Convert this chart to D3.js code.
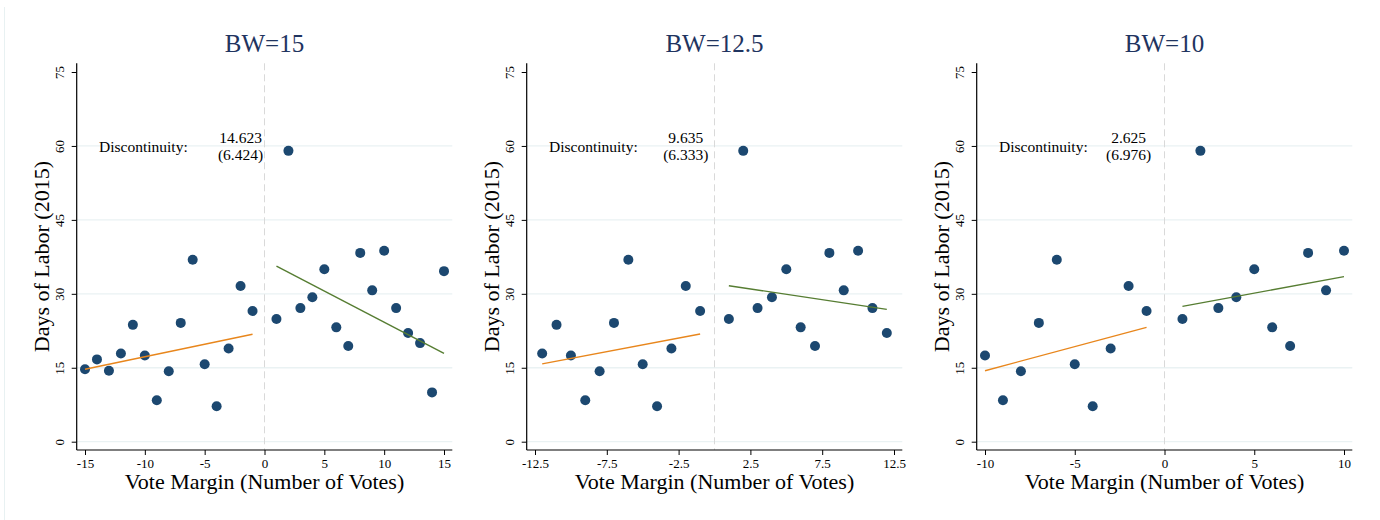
<!DOCTYPE html>
<html>
<head>
<meta charset="utf-8">
<script src="https://cdn.jsdelivr.net/npm/d3@7"></script>
<style>
  body { margin: 0; background: #fff; }
  svg { display: block; font-family: "Liberation Serif", "DejaVu Serif", serif; }
</style>
</head>
<body>
<svg id="chart"></svg>
<script>
// vote margin bins and mean days of labor
let margins = [-15,-14,-13,-12,-11,-10,-9,-8,-7,-6,-5,-4,-3,-2,-1,1,2,3,4,5,6,7,8,9,10,11,12,13,14,15]
let days = [14.7,16.7,14.4,17.9,23.7,17.5,8.4,14.3,24.1,36.9,15.7,7.2,18.9,31.6,26.5,
            24.9,59.0,27.1,29.3,35.0,23.2,19.4,38.3,30.7,38.75,27.1,22.05,20.0,10.0,34.6]

let bandwidths = [15, 12.5, 10]
let titles = ['BW=15', 'BW=12.5', 'BW=10']
let xTicks = [[-15,-10,-5,0,5,10,15], [-12.5,-7.5,-2.5,2.5,7.5,12.5], [-10,-5,0,5,10]]
let yTicks = [0,15,30,45,60,75]
let estimates = ['14.623', '9.635', '2.625']
let stdErrors = ['(6.424)', '(6.333)', '(6.976)']
// fitted line ends: [x0, y0, x1, y1]
let leftFits = [[-15,14.7,-1,21.8], [-12,15.8,-1,21.85], [-10,14.4,-1,23.2]]
let rightFits = [[1,35.6,15,17.9], [1,31.65,12,26.85], [1,27.45,10,33.5]]

let width = 1380
let height = 520
let panelW = 450

let svg = d3.select('#chart').attr('width', width).attr('height', height)

// faint outer frame line on the left
svg.append('line')
  .attr('x1', 4.5).attr('x2', 4.5).attr('y1', 7).attr('y2', height)
  .attr('stroke', '#e8f1f2').attr('stroke-width', 1)

let axL = 76.7, axR = 452.3, axT = 63.3, axB = 450

bandwidths.forEach((bw, i) => {
  let g = svg.append('g').attr('transform', 'translate(' + (i * panelW) + ',0)')

  let xScale = d3.scaleLinear().domain([-bw, bw]).range([85, 444])
  let yScale = d3.scaleLinear().domain([0, 75]).range([441.7, 72])

  // gridlines
  g.selectAll('.grid')
    .data(yTicks.filter(t => t < 75))
    .enter()
    .append('line')
    .attr('x1', axL).attr('x2', axR)
    .attr('y1', d => yScale(d)).attr('y2', d => yScale(d))
    .attr('stroke', '#eaf2f3').attr('stroke-width', 1.3)

  // cutoff line
  g.append('line')
    .attr('x1', xScale(0)).attr('x2', xScale(0))
    .attr('y1', axT).attr('y2', axB)
    .attr('stroke', '#d9d9d9').attr('stroke-width', 1)
    .attr('stroke-dasharray', '7,4')

  // axes
  let yAxis = d3.axisLeft(yScale).tickValues(yTicks).tickSize(5).tickFormat(d3.format('d'))
  let yg = g.append('g').attr('transform', 'translate(' + axL + ',0)').call(yAxis)
  yg.select('.domain').remove()
  yg.selectAll('.tick line').attr('stroke', '#000')
  yg.selectAll('.tick text')
    .attr('x', null).attr('dy', null)
    .attr('transform', 'translate(-13,0) rotate(-90)')
    .attr('text-anchor', 'middle')
    .style('font-family', '"Liberation Serif", serif')
    .style('font-size', '13px')
    .attr('fill', '#000')

  let xAxis = d3.axisBottom(xScale).tickValues(xTicks[i]).tickSize(5).tickFormat(d => String(d))
  let xg = g.append('g').attr('transform', 'translate(0,' + axB + ')').call(xAxis)
  xg.select('.domain').remove()
  xg.selectAll('.tick line').attr('stroke', '#000')
  xg.selectAll('.tick text')
    .attr('y', 18).attr('dy', null)
    .style('font-family', '"Liberation Serif", serif')
    .style('font-size', '13px')
    .attr('fill', '#000')

  g.append('line').attr('x1', axL).attr('x2', axL).attr('y1', axT).attr('y2', axB)
    .attr('stroke', '#000').attr('stroke-width', 1.2)
  g.append('line').attr('x1', axL).attr('x2', axR).attr('y1', axB).attr('y2', axB)
    .attr('stroke', '#000').attr('stroke-width', 1.2)

  // points within bandwidth
  let pts = margins.map((m, k) => [m, days[k]]).filter(p => Math.abs(p[0]) <= bw)
  g.selectAll('circle')
    .data(pts)
    .enter()
    .append('circle')
    .attr('cx', d => xScale(d[0]))
    .attr('cy', d => yScale(d[1]))
    .attr('r', 5)
    .attr('fill', '#1c4870')

  // fits
  let lf = leftFits[i], rf = rightFits[i]
  g.append('line')
    .attr('x1', xScale(lf[0])).attr('y1', yScale(lf[1]))
    .attr('x2', xScale(lf[2])).attr('y2', yScale(lf[3]))
    .attr('stroke', '#e8861c').attr('stroke-width', 1.4)
  g.append('line')
    .attr('x1', xScale(rf[0])).attr('y1', yScale(rf[1]))
    .attr('x2', xScale(rf[2])).attr('y2', yScale(rf[3]))
    .attr('stroke', '#567d32').attr('stroke-width', 1.4)

  // title
  g.append('text')
    .attr('x', (axL + axR) / 2).attr('y', 52)
    .attr('text-anchor', 'middle')
    .style('font-size', '25px')
    .attr('fill', '#1f3460')
    .text(titles[i])

  // discontinuity annotation
  g.append('text')
    .attr('x', 99).attr('y', 151.5)
    .style('font-size', '15.5px')
    .text('Discontinuity:')
  g.append('text')
    .attr('x', xScale(-2)).attr('y', 143)
    .attr('text-anchor', 'middle')
    .style('font-size', '15.5px')
    .text(estimates[i])
  g.append('text')
    .attr('x', xScale(-2)).attr('y', 160)
    .attr('text-anchor', 'middle')
    .style('font-size', '15.5px')
    .text(stdErrors[i])

  // axis titles
  g.append('text')
    .attr('transform', 'translate(49,' + ((axT + axB) / 2) + ') rotate(-90)')
    .attr('text-anchor', 'middle')
    .style('font-size', '22px')
    .text('Days of Labor (2015)')
  g.append('text')
    .attr('x', (axL + axR) / 2).attr('y', 489)
    .attr('text-anchor', 'middle')
    .style('font-size', '22px')
    .text('Vote Margin (Number of Votes)')
})
</script>
</body>
</html>
